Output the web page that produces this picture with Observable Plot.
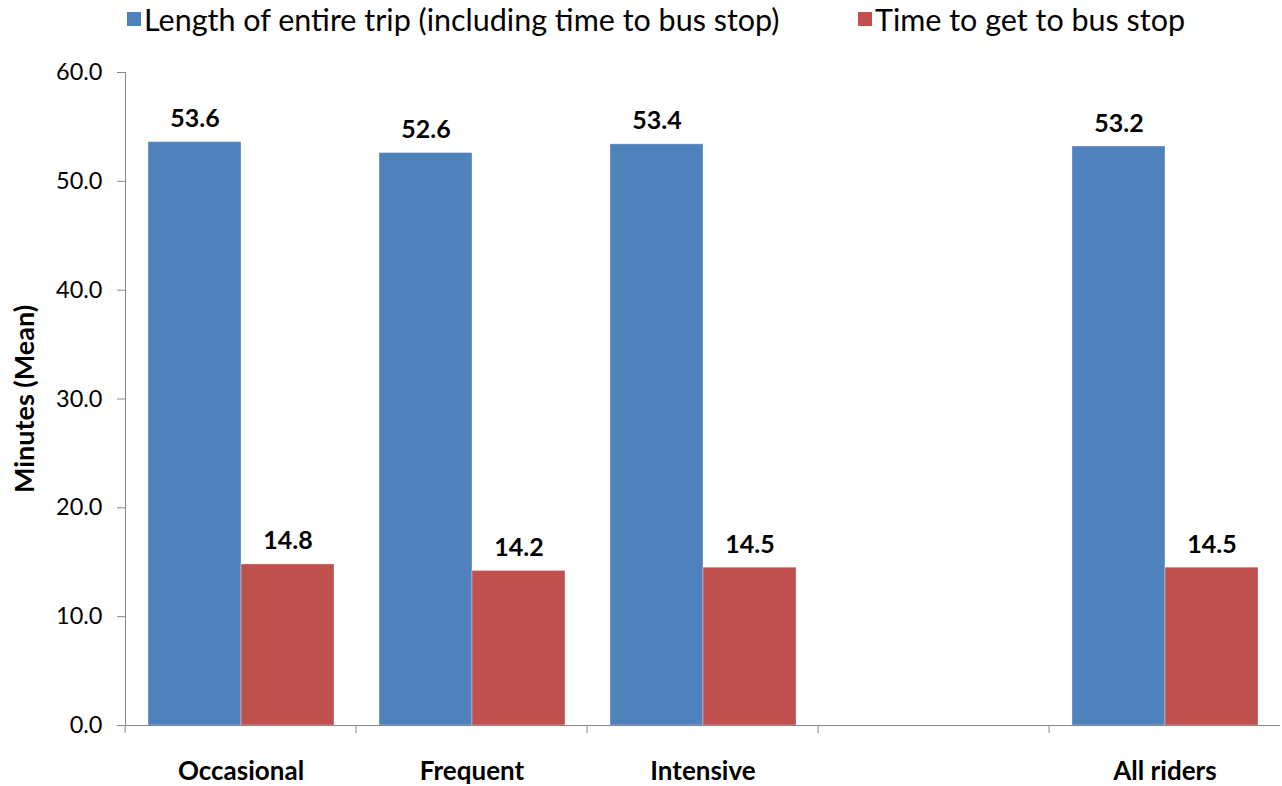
<!DOCTYPE html>
<html>
<head>
<meta charset="utf-8">
<script src="https://cdn.jsdelivr.net/npm/d3@7"></script>
<script src="https://cdn.jsdelivr.net/npm/@observablehq/plot@0.6"></script>
<style>
  body { margin: 0; background: #fff; font-family: Lato, "Noto Sans", sans-serif; }
  #chart { position: relative; width: 1282px; height: 786px; overflow: hidden; background: #fff; }
  .legend { position: relative; height: 46px; }
  .legend .item { position: absolute; top: 1px; display: flex; align-items: center; font-size: 30.5px; color: #000; white-space: nowrap; }
  .legend .sw { width: 14px; height: 14px; margin-right: 3px; }
  svg { display: block; }
</style>
</head>
<body>
<div id="chart"></div>
<script>
// Rider groups, with an empty slot kept before "All riders"
const slots = ["Occasional", "Frequent", "Intensive", "", "All riders"];
const riders = ["Occasional", "Frequent", "Intensive", "All riders"];

// Series names and colours
const series = ["Length of entire trip (including time to bus stop)", "Time to get to bus stop"];
const colors = ["#4F81BD", "#C0504D"];

// Mean minutes per rider group
const tripLength = [53.6, 52.6, 53.4, 53.2];
const timeToStop = [14.8, 14.2, 14.5, 14.5];

// Y axis ticks and title
const yTicks = [0, 10, 20, 30, 40, 50, 60];
const yTitle = "Minutes (Mean)";

const rows = riders.flatMap((g, i) => [
  {group: g, series: series[0], value: tripLength[i]},
  {group: g, series: series[1], value: timeToStop[i]}
]);

const W = 1282, legendH = 46, H = 786 - legendH;
const margin = {top: 26, right: 0, bottom: 61, left: 123};
const slot = (W - margin.left - margin.right) / slots.length;
const axisGray = "#868686";
const font = "Lato, 'Noto Sans', sans-serif";

// Legend
const root = d3.select("#chart");
const legend = root.append("div").attr("class", "legend");
const legendLeft = [127, 858];
series.forEach((s, i) => {
  const item = legend.append("div").attr("class", "item").style("left", legendLeft[i] + "px");
  item.append("div").attr("class", "sw").style("background", colors[i]);
  item.append("span").text(s);
});

const chart = Plot.plot({
  width: W,
  height: H,
  marginTop: margin.top,
  marginRight: margin.right,
  marginBottom: margin.bottom,
  marginLeft: margin.left,
  style: {fontFamily: font, background: "white", color: "black", overflow: "visible"},
  fx: {domain: slots, padding: 0, label: null},
  x: {domain: series, paddingInner: 0, paddingOuter: 0.23, axis: null},
  y: {domain: [0, 60], label: null},
  color: {domain: series, range: colors},
  marks: [
    Plot.barY(rows, {fx: "group", x: "series", y: "value", fill: "series", stroke: "white", strokeOpacity: 0.35, strokeWidth: 1}),
    Plot.text(rows, {
      fx: "group", x: "series", y: "value",
      text: d => d.value.toFixed(1),
      lineAnchor: "bottom", dy: -15,
      fontSize: 25, fontWeight: "bold", fill: "black"
    }),
    // x axis line, drawn in every slot including the empty one
    Plot.ruleY(slots, {fx: d => d, y: () => 0, stroke: axisGray}),
    // y axis line
    Plot.frame({anchor: "left", facetAnchor: "left", stroke: axisGray}),
    Plot.axisY({
      ticks: yTicks, tickFormat: d3.format(".1f"),
      tickSize: 8, tickPadding: 15,
      fontSize: 23.5, stroke: axisGray, fill: "black", label: null
    }),
    // group labels
    Plot.axisFx({anchor: "bottom", tickSize: 0, tickPadding: 36, fontSize: 26, fontWeight: "bold", fill: "black", label: null}),
    // tick marks between groups
    Plot.axisFx({anchor: "bottom", tickSize: 8, fill: "none", stroke: axisGray, dx: -slot / 2, label: null}),
    Plot.text([yTitle], {
      fx: () => slots[0], frameAnchor: "left", text: d => d,
      textAnchor: "middle", rotate: -90, dx: -100,
      fontSize: 27, fontWeight: "bold", fill: "black"
    })
  ]
});
root.node().appendChild(chart);
</script>
</body>
</html>
